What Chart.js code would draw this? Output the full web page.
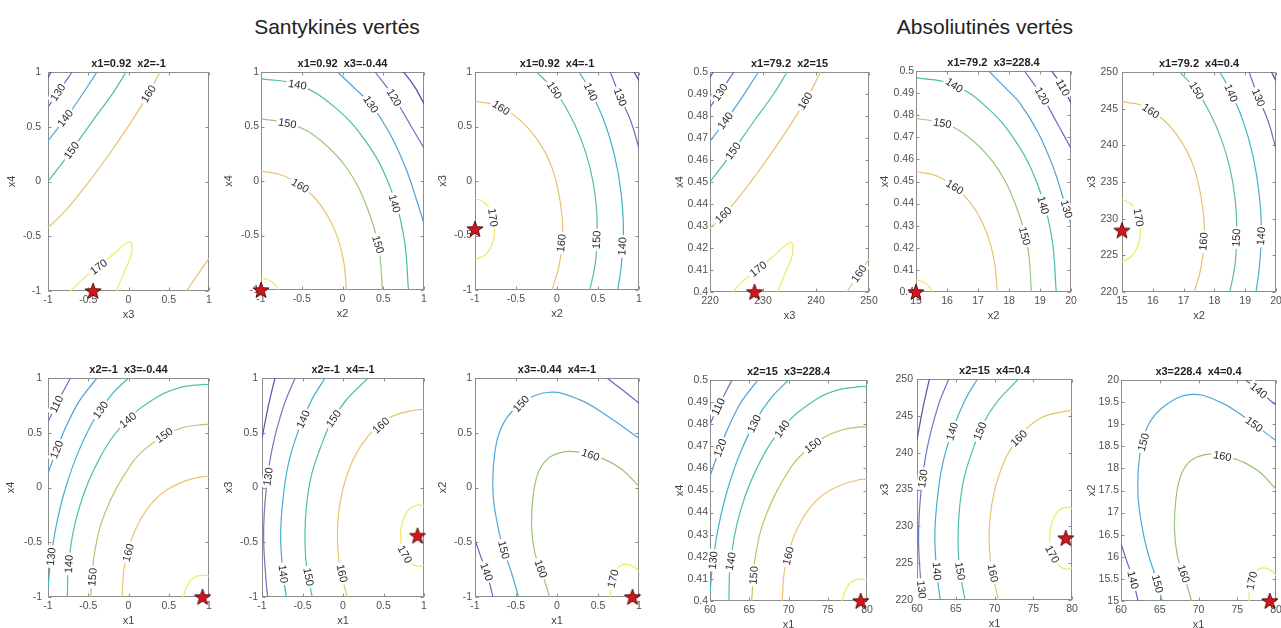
<!DOCTYPE html>
<html>
<head>
<meta charset="utf-8">
<script src="https://cdn.jsdelivr.net/npm/chart.js@4.4.0/dist/chart.umd.min.js"></script>
<style>
body{margin:0;background:#fff;width:1281px;height:628px;position:relative;overflow:hidden;font-family:'Liberation Sans',Arial,sans-serif}
.grp{position:absolute;top:15px;font-size:21px;line-height:24px;color:#222;transform:translateX(-50%);white-space:nowrap}
canvas{position:absolute}
</style>
</head>
<body>
<div class="grp" style="left:337px">Santykinės vertės</div>
<div class="grp" style="left:985px">Absoliutinės vertės</div>
<script>
// tick values
const codedTicks = [-1, -0.5, 0, 0.5, 1];
const x1Ticks = [60, 65, 70, 75, 80];
const x2Ticks = [15, 16, 17, 18, 19, 20];
const x2HalfTicks = [15, 15.5, 16, 16.5, 17, 17.5, 18, 18.5, 19, 19.5, 20];
const x3Ticks = [220, 230, 240, 250];
const x3FiveTicks = [220, 225, 230, 235, 240, 245, 250];
const x4Ticks = [0.4, 0.41, 0.42, 0.43, 0.44, 0.45, 0.46, 0.47, 0.48, 0.49, 0.5];

const relTitles = ['x1=0.92  x2=-1', 'x1=0.92  x3=-0.44', 'x1=0.92  x4=-1',
                   'x2=-1  x3=-0.44', 'x2=-1  x4=-1', 'x3=-0.44  x4=-1'];
const absTitles = ['x1=79.2  x2=15', 'x1=79.2  x3=228.4', 'x1=79.2  x4=0.4',
                   'x2=15  x3=228.4', 'x2=15  x4=0.4', 'x3=228.4  x4=0.4'];

// contour lines: [level, [[x, y], ...]]
// coded units
const r1Lines = [
  [120, [[-1,0.95],[-0.96,1]]],
  [130, [[-1,0.68],[-0.87,0.82],[-0.7,1]]],
  [140, [[-1,0.37],[-0.7,0.66],[-0.39,1]]],
  [150, [[-1,0],[-0.72,0.27],[-0.45,0.55],[-0.2,0.8],[-0.03,1]]],
  [160, [[-1,-0.42],[-0.8,-0.28],[-0.5,-0.01],[-0.2,0.29],[0.1,0.62],[0.25,0.8],[0.39,1]]],
  [170, [[-0.72,-1],[-0.55,-0.88],[-0.37,-0.78],[-0.15,-0.64],[0,-0.55],[0.04,-0.57],[0.03,-0.68],[-0.05,-0.82],[-0.15,-1]]],
  [160, [[0.72,-1],[0.86,-0.85],[1,-0.7]]]
];
const r2Lines = [
  [170, [[-1,-0.89],[-0.9,-0.91],[-0.83,-0.95],[-0.79,-1]]],
  [160, [[-1,0.09],[-0.73,0.05],[-0.48,-0.06],[-0.26,-0.23],[-0.09,-0.46],[0.01,-0.72],[0.05,-1]]],
  [150, [[-1,0.57],[-0.61,0.52],[-0.25,0.36],[0.06,0.11],[0.29,-0.22],[0.44,-0.59],[0.49,-1]]],
  [140, [[-1,0.94],[-0.53,0.88],[-0.1,0.68],[0.28,0.37],[0.57,-0.03],[0.75,-0.5],[0.81,-1]]],
  [130, [[-0.06,1],[0.15,0.85],[0.34,0.71],[0.57,0.45],[0.77,0.13],[0.92,-0.2],[1,-0.39]]],
  [120, [[0.4,1],[0.62,0.78],[0.82,0.53],[1,0.3]]],
  [110, [[0.75,1],[0.88,0.87],[1,0.71]]]
];
const r3Lines = [
  [170, [[-1,-0.16],[-0.88,-0.2],[-0.79,-0.3],[-0.76,-0.44],[-0.79,-0.58],[-0.88,-0.68],[-1,-0.72]]],
  [160, [[-1,0.73],[-0.72,0.69],[-0.47,0.57],[-0.24,0.38],[-0.07,0.14],[0.03,-0.15],[0.07,-0.45],[0.03,-0.76],[-0.06,-1]]],
  [150, [[-0.25,1],[-0.04,0.84],[0.14,0.63],[0.29,0.39],[0.4,0.13],[0.47,-0.16],[0.49,-0.45],[0.47,-0.74],[0.4,-1]]],
  [140, [[0.27,1],[0.39,0.85],[0.57,0.56],[0.7,0.24],[0.78,-0.1],[0.81,-0.45],[0.78,-0.8],[0.74,-1]]],
  [130, [[0.65,1],[0.77,0.77],[0.9,0.55],[1,0.3]]],
  [120, [[0.94,1],[1,0.92]]]
];
const r4Lines = [
  [170, [[0.68,-1],[0.74,-0.88],[0.82,-0.82],[0.92,-0.8],[1,-0.81]]],
  [160, [[1,0.1],[0.92,0.1],[0.67,0.05],[0.42,-0.05],[0.21,-0.22],[0.05,-0.45],[-0.05,-0.72],[-0.08,-1]]],
  [150, [[1,0.575],[0.92,0.575],[0.69,0.55],[0.45,0.48],[0.22,0.36],[0.03,0.21],[-0.28,-0.21],[-0.42,-0.59],[-0.47,-1]]],
  [140, [[1,0.94],[0.92,0.94],[0.63,0.91],[0.34,0.82],[-0.05,0.59],[-0.37,0.25],[-0.61,-0.18],[-0.74,-0.66],[-0.76,-1]]],
  [130, [[-1,-0.92],[-0.96,-0.63],[-0.89,-0.32],[-0.78,0],[-0.62,0.33],[-0.42,0.63],[-0.22,0.84],[0,1]]],
  [120, [[-1,0.13],[-0.9,0.33],[-0.78,0.55],[-0.62,0.78],[-0.5,0.9],[-0.39,1]]],
  [110, [[-1,0.6],[-0.88,0.78],[-0.72,1]]]
];
const r5Lines = [
  [170, [[1,-0.17],[0.92,-0.16],[0.815,-0.2],[0.74,-0.3],[0.71,-0.44],[0.74,-0.58],[0.815,-0.68],[0.92,-0.72],[1,-0.71]]],
  [160, [[1,0.71],[0.92,0.71],[0.58,0.64],[0.28,0.44],[0.06,0.135],[-0.055,-0.24],[-0.055,-0.64],[0.05,-1]]],
  [150, [[0.31,1],[0.03,0.79],[-0.15,0.59],[-0.28,0.36],[-0.39,0.11],[-0.45,-0.16],[-0.47,-0.44],[-0.45,-0.72],[-0.38,-1]]],
  [140, [[-0.22,1],[-0.38,0.81],[-0.54,0.54],[-0.67,0.23],[-0.74,-0.1],[-0.77,-0.44],[-0.74,-0.78],[-0.7,-1]]],
  [130, [[-0.59,1],[-0.73,0.75],[-0.87,0.37],[-0.95,-0.03],[-0.98,-0.44],[-0.95,-0.85],[-0.93,-1]]],
  [120, [[-0.84,1],[-0.92,0.75],[-1,0.45]]]
];
const r6Lines = [
  [170, [[0.65,-1],[0.66,-0.9],[0.7,-0.78],[0.76,-0.72],[0.85,-0.7],[0.95,-0.73],[1,-0.77]]],
  [160, [[1,0.01],[0.8,0.16],[0.6,0.25],[0.4,0.3],[0.15,0.33],[-0.08,0.28],[-0.22,0.15],[-0.29,-0.07],[-0.31,-0.35],[-0.27,-0.6],[-0.19,-0.76],[-0.09,-1]]],
  [150, [[1,0.45],[0.6,0.66],[0.28,0.8],[-0.09,0.87],[-0.43,0.77],[-0.65,0.59],[-0.76,0.31],[-0.78,-0.05],[-0.72,-0.36],[-0.65,-0.57],[-0.55,-0.79],[-0.47,-1]]],
  [140, [[-1,-0.48],[-0.92,-0.65],[-0.86,-0.77],[-0.78,-1]]],
  [140, [[0.61,1],[0.8,0.89],[1,0.77]]]
];

// real units
const a1Lines = [
  [120, [[220,0.4975],[220.6,0.5]]],
  [130, [[220,0.484],[222,0.491],[224.5,0.5]]],
  [140, [[220,0.4685],[224.5,0.483],[229.15,0.5]]],
  [150, [[220,0.45],[224.2,0.4635],[228.25,0.4775],[232,0.49],[234.55,0.5]]],
  [160, [[220,0.429],[223,0.436],[227.5,0.4495],[232,0.4645],[236.5,0.481],[238.75,0.49],[240.85,0.5]]],
  [170, [[224.2,0.4],[226.75,0.406],[229.45,0.411],[232.75,0.418],[235,0.4225],[235.6,0.4215],[235.45,0.416],[234.25,0.409],[232.75,0.4]]],
  [160, [[245.8,0.4],[247.9,0.4075],[250,0.415]]]
];
const a2Lines = [
  [170, [[15,0.4055],[15.25,0.4045],[15.425,0.4025],[15.525,0.4]]],
  [160, [[15,0.4545],[15.675,0.4525],[16.3,0.447],[16.85,0.4385],[17.275,0.427],[17.525,0.414],[17.625,0.4]]],
  [150, [[15,0.4785],[15.975,0.476],[16.875,0.468],[17.65,0.4555],[18.225,0.439],[18.6,0.4205],[18.725,0.4]]],
  [140, [[15,0.497],[16.175,0.494],[17.25,0.484],[18.2,0.4685],[18.925,0.4485],[19.375,0.425],[19.525,0.4]]],
  [130, [[17.35,0.5],[17.875,0.4925],[18.35,0.4855],[18.925,0.4725],[19.425,0.4565],[19.8,0.44],[20,0.4305]]],
  [120, [[18.5,0.5],[19.05,0.489],[19.55,0.4765],[20,0.465]]],
  [110, [[19.375,0.5],[19.7,0.4935],[20,0.4855]]]
];
const a3Lines = [
  [170, [[15,232.6],[15.3,232],[15.52,230.5],[15.6,228.4],[15.52,226.3],[15.3,224.8],[15,224.2]]],
  [160, [[15,245.95],[15.7,245.35],[16.325,243.55],[16.9,240.7],[17.325,237.1],[17.575,232.75],[17.675,228.25],[17.575,223.6],[17.35,220]]],
  [150, [[16.875,250],[17.4,247.6],[17.85,244.45],[18.225,240.85],[18.5,236.95],[18.675,232.6],[18.725,228.25],[18.675,223.9],[18.5,220]]],
  [140, [[18.175,250],[18.475,247.75],[18.925,243.4],[19.25,238.6],[19.45,233.5],[19.525,228.25],[19.45,223],[19.35,220]]],
  [130, [[19.125,250],[19.425,246.55],[19.75,243.25],[20,239.5]]],
  [120, [[19.85,250],[20,248.8]]]
];
const a4Lines = [
  [170, [[76.8,0.4],[77.4,0.406],[78.2,0.409],[79.2,0.41],[80,0.4095]]],
  [160, [[80,0.455],[79.2,0.455],[76.7,0.4525],[74.2,0.4475],[72.1,0.439],[70.5,0.4275],[69.5,0.414],[69.2,0.4]]],
  [150, [[80,0.47875],[79.2,0.47875],[76.9,0.4775],[74.5,0.474],[72.2,0.468],[70.3,0.4605],[67.2,0.4395],[65.8,0.4205],[65.3,0.4]]],
  [140, [[80,0.497],[79.2,0.497],[76.3,0.4955],[73.4,0.491],[69.5,0.4795],[66.3,0.4625],[63.9,0.441],[62.6,0.417],[62.4,0.4]]],
  [130, [[60,0.404],[60.4,0.4185],[61.1,0.434],[62.2,0.45],[63.8,0.4665],[65.8,0.4815],[67.8,0.492],[70,0.5]]],
  [120, [[60,0.4565],[61,0.4665],[62.2,0.4775],[63.8,0.489],[65,0.495],[66.1,0.5]]],
  [110, [[60,0.48],[61.2,0.489],[62.8,0.5]]]
];
const a5Lines = [
  [170, [[80,232.45],[79.2,232.6],[78.15,232],[77.4,230.5],[77.1,228.4],[77.4,226.3],[78.15,224.8],[79.2,224.2],[80,224.35]]],
  [160, [[80,245.65],[79.2,245.65],[75.8,244.6],[72.8,241.6],[70.6,237],[69.45,231.4],[69.45,225.4],[70.5,220]]],
  [150, [[73.1,250],[70.3,246.85],[68.5,243.85],[67.2,240.4],[66.1,236.65],[65.5,232.6],[65.3,228.4],[65.5,224.2],[66.2,220]]],
  [140, [[67.8,250],[66.2,247.15],[64.6,243.1],[63.3,238.45],[62.6,233.5],[62.3,228.4],[62.6,223.3],[63,220]]],
  [130, [[64.1,250],[62.7,246.25],[61.3,240.55],[60.5,234.55],[60.2,228.4],[60.5,222.25],[60.7,220]]],
  [120, [[61.6,250],[60.8,246.25],[60,241.75]]]
];
const a6Lines = [
  [170, [[76.5,15],[76.6,15.25],[77,15.55],[77.6,15.7],[78.5,15.75],[79.5,15.675],[80,15.575]]],
  [160, [[80,17.525],[78,17.9],[76,18.125],[74,18.25],[71.5,18.325],[69.2,18.2],[67.8,17.875],[67.1,17.325],[66.9,16.625],[67.3,16],[68.1,15.6],[69.1,15]]],
  [150, [[80,18.625],[76,19.15],[72.8,19.5],[69.1,19.675],[65.7,19.425],[63.5,18.975],[62.4,18.275],[62.2,17.375],[62.8,16.6],[63.5,16.075],[64.5,15.525],[65.3,15]]],
  [140, [[60,16.3],[60.8,15.875],[61.4,15.575],[62.2,15]]],
  [140, [[76.1,20],[78,19.725],[80,19.425]]]
];

// inline contour labels: [level, x, y]
const r1Labels = [[130,-0.87,0.81],[140,-0.79,0.58],[150,-0.72,0.29],[160,0.25,0.8],[170,-0.37,-0.78]];
const r2Labels = [[140,-0.56,0.85],[150,-0.68,0.51],[160,-0.5,-0.02],[130,0.34,0.7],[120,0.62,0.76],[140,0.58,-0.22],[150,0.4,-0.59]];
const r3Labels = [[160,-0.7,0.65],[150,-0.1,0.8],[140,0.36,0.8],[130,0.77,0.77],[170,-0.82,-0.34],[160,0.06,-0.57],[150,0.48,-0.54],[140,0.81,-0.6]];
const r4Labels = [[110,-0.89,0.76],[120,-0.87,0.34],[130,-0.35,0.71],[140,0.02,0.59],[150,0.45,0.47],[130,-0.97,-0.63],[140,-0.7,-0.7],[150,-0.41,-0.82],[160,0.02,-0.6]];
const r5Labels = [[140,-0.51,0.63],[150,-0.1,0.62],[160,0.44,0.59],[130,-0.93,0.1],[140,-0.75,-0.79],[150,-0.45,-0.82],[160,-0.05,-0.79],[170,0.79,-0.6]];
const r6Labels = [[150,-0.43,0.76],[160,0.4,0.28],[150,-0.65,-0.57],[160,-0.19,-0.74],[140,-0.86,-0.77],[170,0.67,-0.83]];
const a1Labels = [[130,222,0.4906],[140,222.8,0.478],[150,224.1,0.4646],[160,238.2,0.4865],[160,222.5,0.435],[170,229.1,0.4104],[160,248.3,0.408]];
const a2Labels = [[140,16.16,0.4919],[150,15.84,0.4753],[160,16.27,0.4479],[110,19.65,0.4919],[120,19.06,0.4886],[140,19.0,0.4389],[150,18.49,0.4253],[130,19.81,0.4373]];
const a3Labels = [[150,17.27,247.1],[140,18.52,247.1],[130,19.49,246.6],[160,15.92,244.6],[170,15.43,230.1],[160,17.6,226.9],[150,18.73,227.4],[140,19.55,227.6]];
const a4Labels = [[110,61.5,0.4872],[120,61.5,0.469],[130,65.5,0.4804],[140,69.4,0.4773],[150,73.4,0.469],[130,60.4,0.4184],[140,63.0,0.4177],[150,65.7,0.4116],[160,70.4,0.42]];
const a5Labels = [[140,64.5,242.9],[150,68.2,242.9],[160,73.1,242],[130,60.6,236.5],[140,62.4,223.9],[150,65.4,223.9],[160,69.5,223.6],[130,60.3,221.4],[170,77.2,226.1]];
const a6Labels = [[140,77.8,19.77],[150,77.1,18.98],[150,62.7,18.6],[160,73.0,18.19],[160,68.1,15.62],[150,64.5,15.38],[140,61.4,15.47],[170,76.6,15.47]];

// optimum points
const relStars = [[-0.44,-1],[-1,-1],[-1,-0.44],[0.92,-1],[0.92,-0.44],[0.92,-1]];
const absStars = [[228.4,0.4],[15,0.4],[15,228.4],[79.2,0.4],[79.2,228.4],[79.2,15]];

// line colours by level (parula-like)
const colA = {120:'#5548a6',130:'#6a6fc2',140:'#4fa6d8',150:'#4cbcae',160:'#e6c275',170:'#eeea60'};
const colB = {110:'#5548a6',120:'#6a6fc2',130:'#4f9fd2',140:'#4bbaae',150:'#9cc678',160:'#e8c26c',170:'#eeea60'};
const colC = {120:'#5548a6',130:'#6a6fc2',140:'#44aed0',150:'#58bea8',160:'#e6c270',170:'#eeea60'};
const colD = {110:'#6a6fc2',120:'#4d9edb',130:'#42b2cc',140:'#4fbfae',150:'#b4c766',160:'#eac56e',170:'#eeea60'};
const colE = {120:'#5a52aa',130:'#6a78c6',140:'#46aad6',150:'#4fbeb0',160:'#e6c370',170:'#eeea60'};
const colF = {140:'#6a68ba',150:'#4ea8da',160:'#9ac574',170:'#eeea60'};

const panels = [
  {lines:r1Lines, labels:r1Labels, star:relStars[0], title:relTitles[0], xName:'x3', yName:'x4', xt:codedTicks, yt:codedTicks, col:colA, box:[48,72,161,219], yPad:8, yGap:36},
  {lines:r2Lines, labels:r2Labels, star:relStars[1], title:relTitles[1], xName:'x2', yName:'x4', xt:codedTicks, yt:codedTicks, col:colB, box:[261,72,163,218], yPad:3, yGap:32},
  {lines:r3Lines, labels:r3Labels, star:relStars[2], title:relTitles[2], xName:'x2', yName:'x3', xt:codedTicks, yt:codedTicks, col:colC, box:[475,72,164,218], yPad:4, yGap:32},
  {lines:r4Lines, labels:r4Labels, star:relStars[3], title:relTitles[3], xName:'x1', yName:'x4', xt:codedTicks, yt:codedTicks, col:colD, box:[48,378,161,219], yPad:7, yGap:37},
  {lines:r5Lines, labels:r5Labels, star:relStars[4], title:relTitles[4], xName:'x1', yName:'x3', xt:codedTicks, yt:codedTicks, col:colE, box:[262,378,162,219], yPad:5, yGap:33},
  {lines:r6Lines, labels:r6Labels, star:relStars[5], title:relTitles[5], xName:'x1', yName:'x2', xt:codedTicks, yt:codedTicks, col:colF, box:[475,378,164,219], yPad:4, yGap:32},
  {lines:a1Lines, labels:a1Labels, star:absStars[0], title:absTitles[0], xName:'x3', yName:'x4', xt:x3Ticks, yt:x4Ticks, col:colA, box:[710,72,159,220], yPad:3, yGap:30},
  {lines:a2Lines, labels:a2Labels, star:absStars[1], title:absTitles[1], xName:'x2', yName:'x4', xt:x2Ticks, yt:x4Ticks, col:colB, box:[916,71,155,221], yPad:3, yGap:31},
  {lines:a3Lines, labels:a3Labels, star:absStars[2], title:absTitles[2], xName:'x2', yName:'x3', xt:x2Ticks, yt:x3FiveTicks, col:colC, box:[1122,72,154,220], yPad:5, yGap:30},
  {lines:a4Lines, labels:a4Labels, star:absStars[3], title:absTitles[3], xName:'x1', yName:'x4', xt:x1Ticks, yt:x4Ticks, col:colD, box:[710,380,157,221], yPad:3, yGap:30},
  {lines:a5Lines, labels:a5Labels, star:absStars[4], title:absTitles[4], xName:'x1', yName:'x3', xt:x1Ticks, yt:x3FiveTicks, col:colE, box:[917,379,155,221], yPad:5, yGap:32},
  {lines:a6Lines, labels:a6Labels, star:absStars[5], title:absTitles[5], xName:'x1', yName:'x2', xt:x1Ticks, yt:x2HalfTicks, col:colF, box:[1121,380,155,221], yPad:3, yGap:29}
];

const FONT = "'Liberation Sans', Arial, sans-serif";
Chart.defaults.font.family = FONT;
Chart.defaults.color = '#555';

function starImage() {
  const c = document.createElement('canvas');
  c.width = c.height = 22;
  const g = c.getContext('2d');
  g.beginPath();
  for (let i = 0; i < 10; i++) {
    const r = i % 2 ? 3.5 : 8.5;
    const a = -Math.PI / 2 + i * Math.PI / 5;
    g.lineTo(11 + r * Math.cos(a), 11.6 + r * Math.sin(a));
  }
  g.closePath();
  g.fillStyle = '#d3151b';
  g.fill();
  g.strokeStyle = '#4a0b0b';
  g.lineWidth = 0.9;
  g.stroke();
  return c;
}
const STAR = starImage();

// box around the axes with inward ticks on all four sides
const frame = {
  id: 'frame',
  beforeDatasetsDraw(chart) {
    const {ctx, chartArea: a, scales: {x, y}} = chart;
    const L = Math.round(a.left) + 0.5, R = Math.round(a.right) - 0.5;
    const T = Math.round(a.top) + 0.5, B = Math.round(a.bottom) - 0.5;
    ctx.save();
    ctx.strokeStyle = '#8c8c8c';
    ctx.lineWidth = 1;
    ctx.strokeRect(L, T, R - L, B - T);
    ctx.beginPath();
    x.ticks.forEach(t => {
      const px = Math.round(x.getPixelForValue(t.value)) + 0.5;
      ctx.moveTo(px, B); ctx.lineTo(px, B - 3);
      ctx.moveTo(px, T); ctx.lineTo(px, T + 3);
    });
    y.ticks.forEach(t => {
      const py = Math.round(y.getPixelForValue(t.value)) + 0.5;
      ctx.moveTo(L, py); ctx.lineTo(L + 3, py);
      ctx.moveTo(R, py); ctx.lineTo(R - 3, py);
    });
    ctx.stroke();
    ctx.restore();
  }
};

// level labels sitting on their contour, rotated along it
const contourLabels = {
  id: 'contourLabels',
  afterDatasetsDraw(chart, args, opts) {
    const {ctx, scales: {x, y}} = chart;
    ctx.save();
    ctx.font = '11px ' + FONT;
    ctx.textAlign = 'center';
    ctx.textBaseline = 'middle';
    (opts.items || []).forEach(([lvl, vx, vy]) => {
      const px = x.getPixelForValue(vx), py = y.getPixelForValue(vy);
      let best = null;
      chart.data.datasets.forEach((ds, i) => {
        if (ds.level !== lvl) return;
        const pts = chart.getDatasetMeta(i).data;
        for (let k = 0; k < pts.length - 1; k++) {
          const p0 = pts[k], p1 = pts[k + 1];
          const dx = p1.x - p0.x, dy = p1.y - p0.y;
          const len2 = dx * dx + dy * dy || 1;
          let t = ((px - p0.x) * dx + (py - p0.y) * dy) / len2;
          t = Math.max(0, Math.min(1, t));
          const qx = p0.x + t * dx, qy = p0.y + t * dy;
          const d = (qx - px) ** 2 + (qy - py) ** 2;
          if (!best || d < best.d) best = {d, qx, qy, ang: Math.atan2(dy, dx)};
        }
      });
      if (!best) return;
      let ang = best.ang;
      if (ang > Math.PI / 2) ang -= Math.PI;
      if (ang < -Math.PI / 2) ang += Math.PI;
      const txt = String(lvl);
      const w = ctx.measureText(txt).width;
      ctx.save();
      ctx.translate(best.qx, best.qy);
      ctx.rotate(ang);
      ctx.fillStyle = '#fff';
      ctx.fillRect(-w / 2 - 2, -5.5, w + 4, 11);
      ctx.fillStyle = '#2a2a2a';
      ctx.fillText(txt, 0, 0.5);
      ctx.restore();
    });
    ctx.restore();
  }
};

const panelTitle = {
  id: 'panelTitle',
  afterDraw(chart, args, opts) {
    const {ctx, chartArea: a} = chart;
    ctx.save();
    ctx.font = 'bold 11px ' + FONT;
    ctx.fillStyle = '#222';
    ctx.textAlign = 'center';
    ctx.textBaseline = 'alphabetic';
    ctx.fillText(opts.text, (a.left + a.right) / 2, a.top - 5);
    ctx.restore();
  }
};

const PAD_L = 50, PAD_T = 24, PAD_R = 14, PAD_B = 33;

function drawPanel(p) {
  const [L, T, W, H] = p.box;
  const cv = document.createElement('canvas');
  cv.width = W + PAD_L + PAD_R;
  cv.height = H + PAD_T + PAD_B;
  cv.style.left = (L - PAD_L) + 'px';
  cv.style.top = (T - PAD_T) + 'px';
  cv.style.width = cv.width + 'px';
  cv.style.height = cv.height + 'px';
  document.body.appendChild(cv);

  const datasets = p.lines.map(([lvl, pts]) => ({
    level: lvl,
    data: pts.map(([vx, vy]) => ({x: vx, y: vy})),
    showLine: true,
    borderColor: p.col[lvl],
    borderWidth: 1.2,
    pointRadius: 0,
    tension: 0.4,
    fill: false
  }));
  datasets.push({
    data: [{x: p.star[0], y: p.star[1]}],
    pointStyle: STAR,
    pointRadius: 8,
    showLine: false,
    clip: false
  });

  const axis = (ticks, name, horizontal) => ({
    type: 'linear',
    min: ticks[0],
    max: ticks[ticks.length - 1],
    afterBuildTicks: s => { s.ticks = ticks.map(v => ({value: v})); },
    afterFit: s => { if (horizontal) s.height = PAD_B; else s.width = PAD_L; },
    grid: {display: false, drawTicks: false},
    border: {display: false},
    ticks: {
      autoSkip: false, maxRotation: 0, minRotation: 0,
      padding: horizontal ? 3 : p.yPad - 1,
      font: {size: 10.5}, color: '#505050',
      callback: v => String(v)
    },
    title: {
      display: true, text: name, color: '#444', font: {size: 11},
      padding: horizontal ? {top: 0, bottom: 2} : {top: PAD_L - p.yGap - 6.6, bottom: 0}
    }
  });

  new Chart(cv, {
    type: 'scatter',
    data: {datasets},
    options: {
      responsive: false,
      devicePixelRatio: 1,
      animation: false,
      events: [],
      layout: {padding: {left: 0, top: PAD_T, right: PAD_R, bottom: 0}, autoPadding: false},
      scales: {x: axis(p.xt, p.xName, true), y: axis(p.yt, p.yName, false)},
      plugins: {
        legend: {display: false},
        tooltip: {enabled: false},
        contourLabels: {items: p.labels},
        panelTitle: {text: p.title}
      }
    },
    plugins: [frame, contourLabels, panelTitle]
  });
}

panels.forEach(drawPanel);
</script>
</body>
</html>
